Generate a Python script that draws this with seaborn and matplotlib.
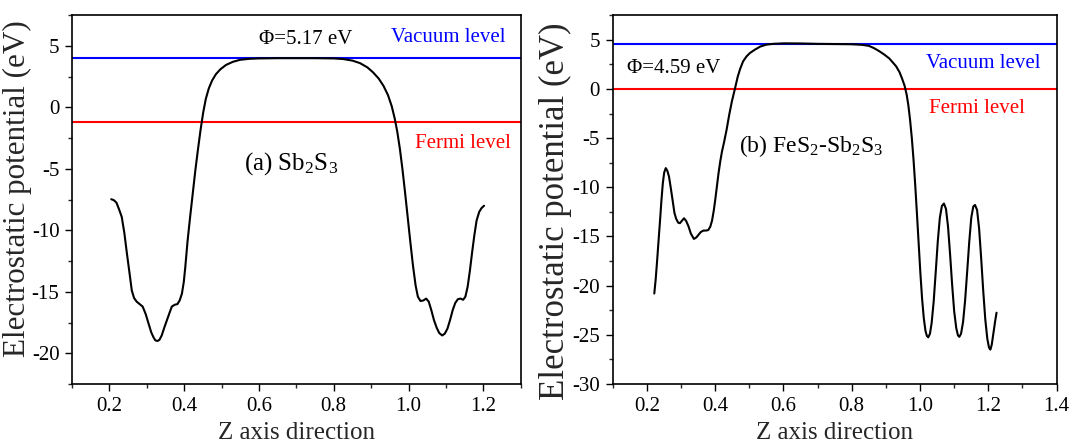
import numpy as np
import pandas as pd
import matplotlib
matplotlib.use("Agg")
import matplotlib.pyplot as plt
import seaborn as sns

# ---------------- data ----------------
z_a = [0.205, 0.212, 0.219, 0.226, 0.233, 0.240, 0.247, 0.254, 0.260, 0.266, 0.273,
       0.281, 0.289, 0.297, 0.305, 0.312, 0.318, 0.323, 0.329, 0.334, 0.340, 0.347,
       0.354, 0.361, 0.367, 0.375, 0.382, 0.388, 0.394, 0.399, 0.403, 0.409, 0.416,
       0.423, 0.430, 0.437, 0.444, 0.451, 0.458, 0.466, 0.475, 0.485, 0.497, 0.512,
       0.530, 0.550, 0.575, 0.600, 0.650, 0.700, 0.750, 0.800, 0.825, 0.850, 0.870,
       0.890, 0.905, 0.920, 0.933, 0.945, 0.955, 0.963, 0.970, 0.977, 0.984, 0.991,
       0.998, 1.005, 1.012, 1.019, 1.025, 1.032, 1.040, 1.047, 1.054, 1.061, 1.068,
       1.075, 1.082, 1.090, 1.097, 1.104, 1.111, 1.118, 1.125, 1.132, 1.139, 1.146,
       1.152, 1.158, 1.164, 1.170, 1.176, 1.182, 1.189, 1.195, 1.202]
v_a = [-7.47, -7.55, -7.75, -8.3, -8.9, -10.2, -11.9, -13.5, -14.9, -15.5, -15.8,
       -16.0, -16.2, -16.8, -17.6, -18.3, -18.7, -18.95, -19.0, -18.9, -18.55, -17.9,
       -17.3, -16.7, -16.2, -16.05, -16.0, -15.7, -15.15, -14.2, -13.0, -10.9, -8.9,
       -7.0, -5.1, -3.4, -1.8, -0.4, 0.7, 1.55, 2.2, 2.7, 3.1, 3.45,
       3.7, 3.87, 3.95, 3.98, 4.0, 4.0, 4.0, 3.98, 3.93, 3.8, 3.6,
       3.25, 2.85, 2.35, 1.75, 1.0, 0.1, -0.9, -2.0, -3.4, -5.1, -7.0,
       -9.0, -11.0, -12.9, -14.5, -15.4, -15.75, -15.7, -15.55, -15.8, -16.5, -17.3,
       -17.9, -18.35, -18.55, -18.4, -18.0, -17.3, -16.5, -15.9, -15.6, -15.55, -15.65,
       -15.4, -14.6, -13.3, -11.8, -10.4, -9.2, -8.5, -8.2, -8.0]

z_b = [0.222, 0.226, 0.230, 0.235, 0.239, 0.243, 0.247, 0.251, 0.2556, 0.260, 0.265,
       0.270, 0.276, 0.281, 0.286, 0.292, 0.297, 0.303, 0.309, 0.315, 0.322, 0.329,
       0.338, 0.345, 0.351, 0.358, 0.366, 0.373, 0.380, 0.386, 0.391, 0.396, 0.400,
       0.405, 0.410, 0.415, 0.420, 0.427, 0.434, 0.441, 0.449, 0.458, 0.466, 0.473,
       0.482, 0.492, 0.502, 0.517, 0.532, 0.550, 0.570, 0.600, 0.650, 0.700, 0.750,
       0.800, 0.830, 0.850, 0.865, 0.880, 0.895, 0.910, 0.920, 0.930, 0.940, 0.948,
       0.955, 0.961, 0.966, 0.971, 0.976, 0.981, 0.986, 0.991, 0.996, 1.001, 1.006,
       1.011, 1.016, 1.020, 1.024, 1.029, 1.034, 1.040, 1.046, 1.052, 1.058, 1.064,
       1.070, 1.076, 1.082, 1.088, 1.094, 1.100, 1.106, 1.111, 1.115, 1.120, 1.126,
       1.132, 1.138, 1.144, 1.150, 1.156, 1.161, 1.167, 1.173, 1.179, 1.185, 1.191,
       1.197, 1.202, 1.206, 1.210, 1.215, 1.220, 1.224]
v_b = [-20.8, -19.4, -17.6, -15.2, -13.3, -11.3, -9.6, -8.5, -8.05, -8.3, -8.9,
       -10.0, -11.4, -12.6, -13.2, -13.6, -13.65, -13.4, -13.15, -13.4, -13.95, -14.7,
       -15.25, -15.1, -14.85, -14.55, -14.4, -14.4, -14.35, -14.0, -13.4, -12.4, -11.4,
       -10.0, -8.6, -7.4, -6.4, -5.3, -4.1, -2.7, -1.3, 0.0, 1.2, 2.0,
       2.8, 3.3, 3.65, 4.0, 4.3, 4.5, 4.58, 4.63, 4.62, 4.58, 4.56,
       4.54, 4.48, 4.38, 4.15, 3.85, 3.5, 3.1, 2.7, 2.3, 1.7, 1.0,
       0.3, -0.6, -1.7, -3.2, -5.0, -7.2, -9.8, -12.7, -15.7, -18.7, -21.3,
       -23.3, -24.6, -25.1, -25.25, -24.9, -23.8, -21.6, -18.6, -15.5, -13.1, -11.9,
       -11.65, -12.2, -14.0, -16.8, -19.9, -22.6, -24.3, -25.05, -25.2, -24.9, -23.7,
       -21.5, -18.6, -15.6, -13.1, -11.95, -11.8, -12.3, -14.2, -17.2, -20.5, -23.4,
       -25.4, -26.3, -26.5, -26.0, -24.8, -23.6, -22.75]

vacuum_a, fermi_a = 4.02, -1.2
vacuum_b, fermi_b = 4.59, 0.0
phi_labels = ["Φ=5.17 eV", "Φ=4.59 eV"]
panel_labels = [r"(a) Sb$_2$S$_3$", r"(b) FeS$_2$-Sb$_2$S$_3$"]
xlabel = "Z axis direction"
ylabel = "Electrostatic potential (eV)"

# ---------------- style ----------------
sns.set_style("ticks")
plt.rcParams["font.family"] = ["Liberation Serif", "DejaVu Serif"]
plt.rcParams["mathtext.fontset"] = "custom"
plt.rcParams["mathtext.rm"] = "Liberation Serif"
plt.rcParams["mathtext.it"] = "Liberation Serif:italic"
plt.rcParams["mathtext.bf"] = "Liberation Serif:bold"

fig = plt.figure(figsize=(10.71, 4.45), dpi=100)
ax1 = fig.add_axes([0.0672, 0.137, 0.419, 0.829])
ax2 = fig.add_axes([0.572, 0.137, 0.4146, 0.829])

df_a = pd.DataFrame({"z": z_a, "v": v_a})
df_b = pd.DataFrame({"z": z_b, "v": v_b})

sns.lineplot(data=df_a, x="z", y="v", ax=ax1, color="black", lw=1.5, estimator=None, sort=False)
sns.lineplot(data=df_b, x="z", y="v", ax=ax2, color="black", lw=1.5, estimator=None, sort=False)

ax1.axhline(vacuum_a, color="#0000ff", lw=1.5, zorder=1)
ax1.axhline(fermi_a, color="#ff0000", lw=1.5, zorder=1)
ax2.axhline(vacuum_b, color="#0000ff", lw=1.5, zorder=1)
ax2.axhline(fermi_b, color="#ff0000", lw=1.5, zorder=1)

ax1.set_xlim(0.1, 1.3)
ax1.set_ylim(-22.5, 7.5)
ax2.set_xlim(0.1, 1.4)
ax2.set_ylim(-30, 7.5)

ax1.set_xticks(np.arange(0.2, 1.21, 0.2))
ax1.set_xticks(np.arange(0.1, 1.31, 0.1), minor=True)
ax1.set_yticks(np.arange(-20, 6, 5))
ax1.set_yticks(np.arange(-22.5, 7.6, 2.5), minor=True)
ax2.set_xticks(np.arange(0.2, 1.41, 0.2))
ax2.set_xticks(np.arange(0.1, 1.41, 0.1), minor=True)
ax2.set_yticks(np.arange(-30, 6, 5))
ax2.set_yticks(np.arange(-30, 7.6, 2.5), minor=True)

for ax in (ax1, ax2):
    ax.xaxis.set_major_formatter(matplotlib.ticker.FormatStrFormatter("%.1f"))
    ax.yaxis.set_major_formatter(matplotlib.ticker.FuncFormatter(lambda v, p: "%d" % v))
    ax.tick_params(which="major", direction="out", length=5, width=1.0,
                   labelsize=15, colors="black", pad=4)
    ax.tick_params(which="minor", direction="out", length=3, width=1.0)
    ax.tick_params(top=False, right=False)
    for s in ax.spines.values():
        s.set_visible(True)
        s.set_linewidth(1.2)
        s.set_color("black")
    ax.set_xlabel(xlabel, fontsize=18, labelpad=5)

ax1.set_ylabel(ylabel, fontsize=22.4)
ax1.yaxis.set_label_coords(-0.089, 0.530)
ax2.set_ylabel(ylabel, fontsize=25)
ax2.yaxis.set_label_coords(-0.092, 0.4675)

# annotations
ax1.text(0.725, 5.5, phi_labels[0], fontsize=15, ha="center", va="center", color="black")
ax1.text(1.105, 5.66, "Vacuum level", fontsize=15, ha="center", va="center", color="#0000ff")
ax1.text(1.146, -2.95, "Fermi level", fontsize=15, ha="center", va="center", color="#ff0000")
ax1.text(0.686, -5.1, panel_labels[0], fontsize=18, ha="center", va="baseline", color="black")

ax2.text(0.278, 2.1, phi_labels[1], fontsize=15, ha="center", va="center", color="black")
ax2.text(1.186, 2.55, "Vacuum level", fontsize=15, ha="center", va="center", color="#0000ff")
ax2.text(1.166, -2.04, "Fermi level", fontsize=15, ha="center", va="center", color="#ff0000")
ax2.text(0.68, -6.4, panel_labels[1], fontsize=17, ha="center", va="baseline", color="black")

fig.savefig("out.png", dpi=100)
